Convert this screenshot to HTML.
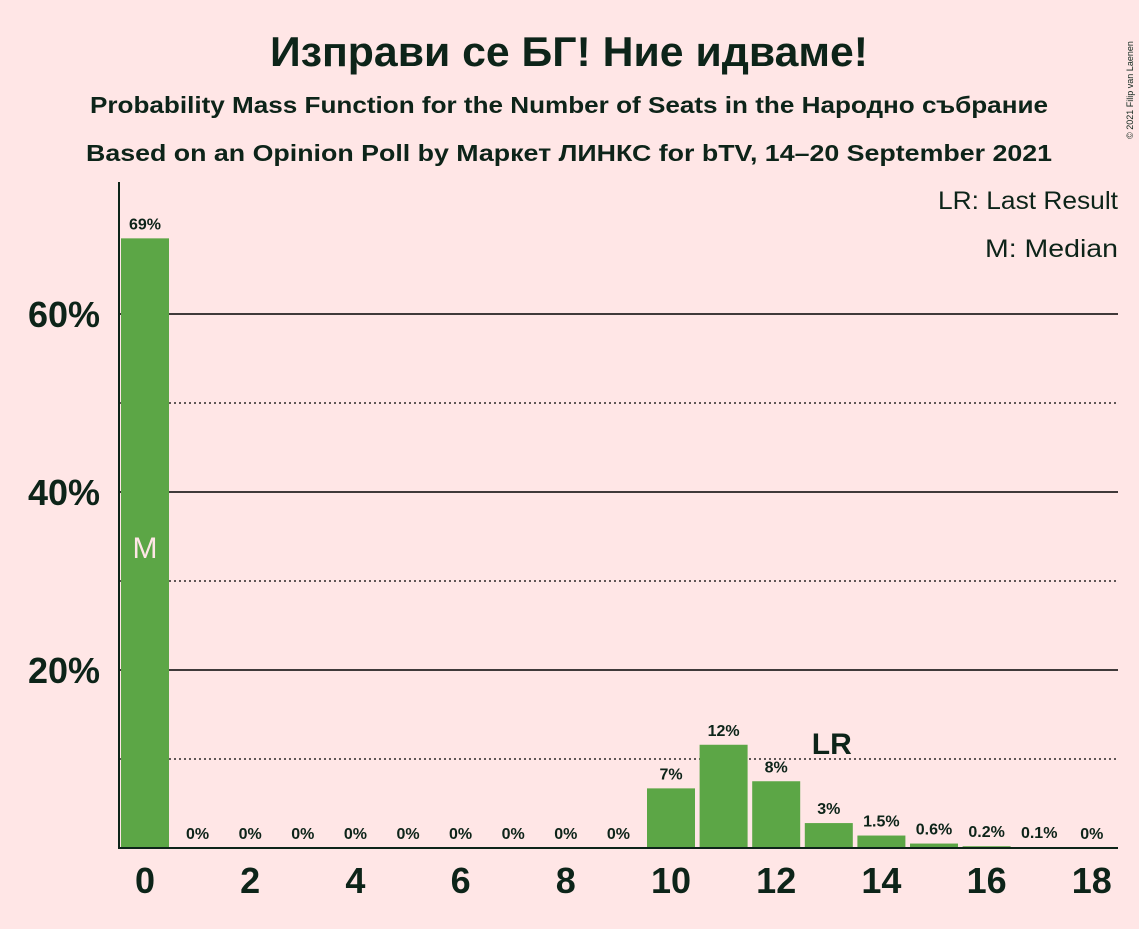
<!DOCTYPE html>
<html><head><meta charset="utf-8"><style>
body{margin:0;background:#ffe6e6;font-family:"Liberation Sans",sans-serif;}
svg text{font-family:"Liberation Sans",sans-serif;font-weight:bold;fill:#0d2419;}
</style></head><body>
<svg id="c" width="1139" height="924" xmlns="http://www.w3.org/2000/svg">
<rect width="1139" height="924" fill="#ffe6e6"/>
<text x="569" y="66" text-anchor="middle" font-size="42" textLength="598" lengthAdjust="spacingAndGlyphs">Изправи се БГ! Ние идваме!</text>
<text x="569" y="113" text-anchor="middle" font-size="23" textLength="958" lengthAdjust="spacingAndGlyphs">Probability Mass Function for the Number of Seats in the Народно събрание</text>
<text x="569" y="161" text-anchor="middle" font-size="23" textLength="966" lengthAdjust="spacingAndGlyphs">Based on an Opinion Poll by Маркет ЛИНКС for bTV, 14–20 September 2021</text>
<text x="1133" y="90" font-size="9" transform="rotate(-90 1133 90)" text-anchor="middle" style="font-weight:normal">© 2021 Filip van Laenen</text>
<text x="1118" y="209" text-anchor="end" font-size="25" textLength="180" lengthAdjust="spacingAndGlyphs" style="font-weight:normal">LR: Last Result</text>
<text x="1118" y="257" text-anchor="end" font-size="25" textLength="133" lengthAdjust="spacingAndGlyphs" style="font-weight:normal">M: Median</text>
<g id="grid"></g><g id="bars"></g><g id="labels"></g>
</svg>
<script>
const seats=[0,1,2,3,4,5,6,7,8,9,10,11,12,13,14,15,16,17,18];
const probs=[68.5,0,0,0,0,0,0,0,0,0,6.7,11.6,7.5,2.8,1.4,0.5,0.2,0.1,0];
const valueLabels=["69%","0%","0%","0%","0%","0%","0%","0%","0%","0%","7%","12%","8%","3%","1.5%","0.6%","0.2%","0.1%","0%"];
const yTicks=[20,40,60];
const yMinor=[10,30,50];
const xTicks=[0,2,4,6,8,10,12,14,16,18];
const medianSeat=0, lastResultSeat=13;
const NS="http://www.w3.org/2000/svg";
const svg=document.getElementById('c');
const y=v=>848-v*8.9;
const x=s=>145+s*52.6;
function mk(t,a,p){const e=document.createElementNS(NS,t);for(const k in a)e.setAttribute(k,a[k]);(p||svg).appendChild(e);return e;}
const g=document.getElementById('grid'),b=document.getElementById('bars'),l=document.getElementById('labels');
yMinor.forEach(v=>{const e=mk('line',{x1:119,x2:1118,y1:y(v),y2:y(v),stroke:'#000','stroke-width':1.3,'stroke-dasharray':'2,3'},g);

});
yTicks.forEach(v=>{const e=mk('line',{x1:119,x2:1118,y1:y(v),y2:y(v),stroke:'#000','stroke-width':1.6},g);


const t=mk('text',{x:100,y:y(v)+13,'text-anchor':'end','font-size':36},l);t.textContent=v+'%';

});
seats.forEach((s,i)=>{const p=probs[i];
if(p>0){const r=mk('rect',{x:x(s)-24,y:y(p),width:48,height:848-y(p),fill:'#5ca646'},b);

}
const t=mk('text',{x:x(s),y:y(p)-9,'text-anchor':'middle','font-size':16},l);t.textContent=valueLabels[i];

});
const m=mk('text',{x:x(medianSeat),y:558,'text-anchor':'middle','font-size':30,style:'fill:#ffe6e6;font-weight:normal'},l);m.textContent='M';


const lr=mk('text',{x:x(lastResultSeat)+3,y:754,'text-anchor':'middle','font-size':30},l);lr.textContent='LR';


const ax=mk('line',{x1:119,x2:119,y1:182,y2:849,stroke:'#0d2419','stroke-width':2});


const bx=mk('line',{x1:118,x2:1118,y1:848,y2:848,stroke:'#0d2419','stroke-width':2});


xTicks.forEach(s=>{const t=mk('text',{x:x(s),y:893,'text-anchor':'middle','font-size':36},l);t.textContent=s;

});
</script>
</body></html>
